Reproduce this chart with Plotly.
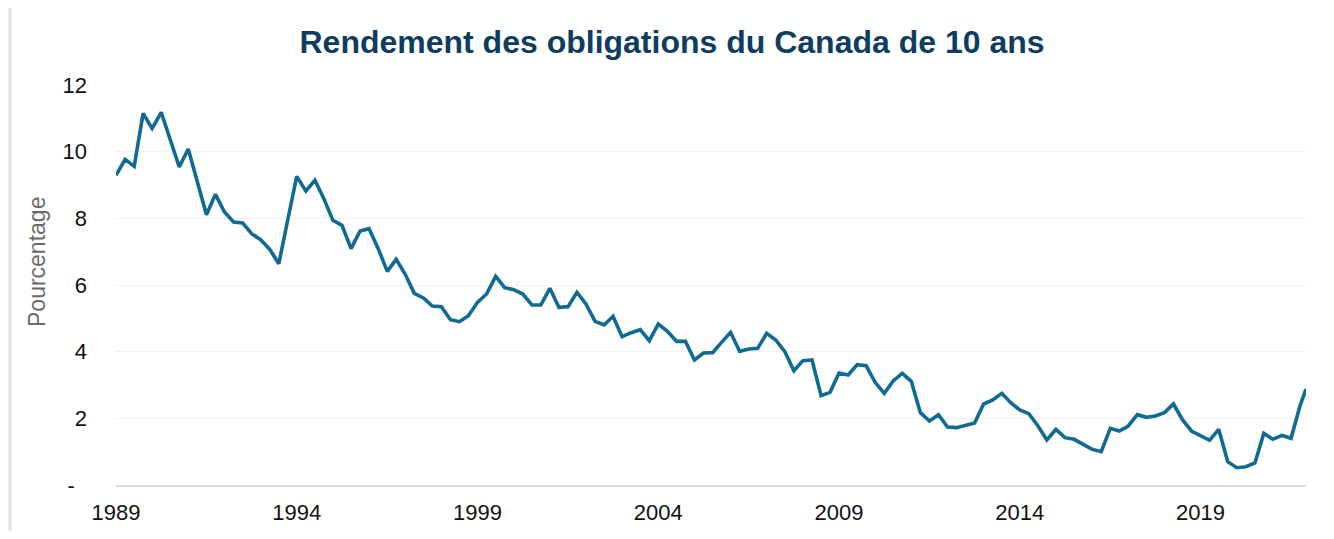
import pandas as pd
import plotly.graph_objects as go

# Quarter-end dates (1989Q2 .. 2022Q1) plus the latest observation
quarter_dates = [d.strftime("%Y-%m-%d") for d in pd.date_range("1989-06-30", "2022-03-31", freq="QE")]
latest_date = ["2022-05-31"]
dates = quarter_dates + latest_date

yields = [
    9.29, 9.77, 9.56, 11.15, 10.70, 11.18, 10.35, 9.54, 10.08, 9.09,
    8.11, 8.72, 8.19, 7.89, 7.86, 7.54, 7.36, 7.07, 6.64, 7.95,
    9.26, 8.82, 9.14, 8.59, 7.94, 7.79, 7.09, 7.62, 7.69, 7.09,
    6.41, 6.77, 6.32, 5.75, 5.61, 5.37, 5.35, 4.96, 4.90, 5.08,
    5.48, 5.73, 6.26, 5.92, 5.86, 5.73, 5.40, 5.40, 5.90, 5.33,
    5.35, 5.78, 5.43, 4.91, 4.80, 5.06, 4.45, 4.57, 4.66, 4.33,
    4.83, 4.61, 4.31, 4.31, 3.75, 3.96, 3.97, 4.28, 4.58, 4.01,
    4.08, 4.10, 4.55, 4.35, 4.00, 3.43, 3.73, 3.75, 2.68, 2.78,
    3.36, 3.30, 3.61, 3.58, 3.08, 2.75, 3.13, 3.35, 3.11, 2.17,
    1.92, 2.11, 1.74, 1.72, 1.80, 1.86, 2.43, 2.55, 2.75, 2.47,
    2.25, 2.14, 1.77, 1.35, 1.67, 1.42, 1.37, 1.22, 1.07, 1.00,
    1.70, 1.62, 1.77, 2.11, 2.03, 2.07, 2.17, 2.43, 1.95, 1.62,
    1.47, 1.34, 1.67, 0.70, 0.52, 0.55, 0.66, 1.55, 1.37, 1.49,
    1.40, 2.37, 2.88,
]

x_tick_vals = ["1989-06-30", "1994-06-30", "1999-06-30", "2004-06-30",
               "2009-06-30", "2014-06-30", "2019-06-30"]
x_tick_text = ["1989", "1994", "1999", "2004", "2009", "2014", "2019"]
y_tick_vals = [0, 2, 4, 6, 8, 10, 12]
y_tick_text = ["-\u00a0\u00a0", "2", "4", "6", "8", "10", "12"]

title_text = "Rendement des obligations du Canada de 10 ans"
y_title = "Pourcentage"

FONT = "Liberation Sans, Arial, Helvetica, sans-serif"
LINE_COLOR = "#106b93"

# the page adds an 8px body margin; figure sized to fill the window exactly
FIG_W, FIG_H = 1318, 523

fig = go.Figure()
fig.add_trace(go.Scatter(
    x=dates, y=yields, mode="lines",
    line=dict(color=LINE_COLOR, width=3.6),
    hoverinfo="x+y", showlegend=False,
))

fig.update_layout(
    width=FIG_W, height=FIG_H,
    margin=dict(l=108, r=20, t=77, b=46),
    paper_bgcolor="white", plot_bgcolor="white",
    font=dict(family=FONT, color="#111111", size=22),
    title=dict(
        text="<b>" + title_text + "</b>",
        font=dict(family=FONT, size=32, color="#0f3d5f"),
        x=(672 - 8) / FIG_W, xanchor="center", xref="container",
        y=1 - (42 - 8) / FIG_H, yanchor="middle", yref="container",
    ),
    xaxis=dict(
        type="date", automargin=False,
        range=[dates[0], dates[-1]],
        tickvals=x_tick_vals, ticktext=x_tick_text,
        showgrid=False, zeroline=False,
        showline=True, linecolor="#d9d9d9", linewidth=2,
        ticks="outside", ticklen=7, tickcolor="rgba(0,0,0,0)",
        tickfont=dict(size=22, color="#111111"),
    ),
    yaxis=dict(
        range=[0, 12], automargin=False,
        tickvals=y_tick_vals, ticktext=y_tick_text,
        showgrid=True, gridcolor="#f1f1f1", gridwidth=1,
        zeroline=False, showline=False,
        ticks="", ticklabelstandoff=28,
        tickfont=dict(size=22, color="#111111"),
    ),
    annotations=[dict(
        text=y_title, textangle=-90,
        xref="paper", yref="paper",
        x=(37 - 116) / 1190, y=(485 - 262) / 400,
        xanchor="center", yanchor="middle", showarrow=False,
        font=dict(family=FONT, size=23, color="#6a6a6a"),
    )],
    shapes=[dict(
        type="line", xref="paper", yref="paper",
        x0=(10 - 116) / 1190, x1=(10 - 116) / 1190,
        y0=(485 - 7) / 400, y1=(485 - 545) / 400,
        line=dict(color="#e2e2e2", width=3),
        layer="below",
    )],
)

fig.write_html("out.html")
